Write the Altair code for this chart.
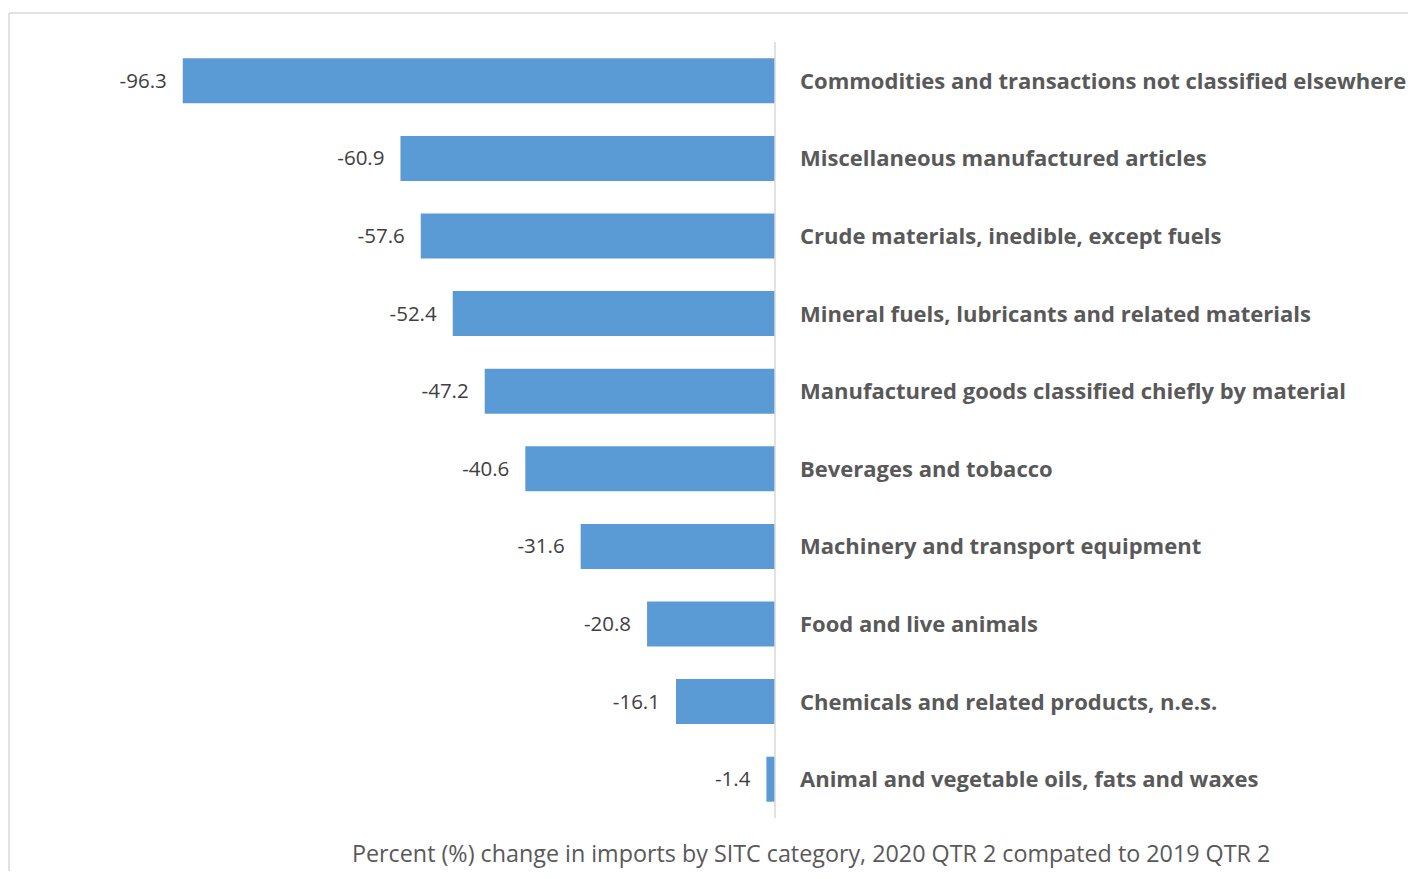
import altair as alt
import pandas as pd

categories = [
    "Commodities and transactions not classified elsewhere",
    "Miscellaneous manufactured articles",
    "Crude materials, inedible, except fuels",
    "Mineral fuels, lubricants and related materials",
    "Manufactured goods classified chiefly by material",
    "Beverages and tobacco",
    "Machinery and transport equipment",
    "Food and live animals",
    "Chemicals and related products, n.e.s.",
    "Animal and vegetable oils, fats and waxes",
]
values = [-96.3, -60.9, -57.6, -52.4, -47.2, -40.6, -31.6, -20.8, -16.1, -1.4]
title_text = ["Percent (%) change in imports by SITC category, 2020 QTR 2 compated to 2019 QTR 2"]

df = pd.DataFrame({"category": categories, "value": values})
df["label"] = df["value"].map(lambda v: f"{v:.1f}")
df["zero"] = 0.0

FONT = "Open Sans"

xscale = alt.Scale(domain=[-100, 0], nice=False)
x = alt.X("value:Q", scale=xscale, axis=None)
y = alt.Y("category:N", sort=categories, axis=None,
          scale=alt.Scale(paddingInner=0.42, paddingOuter=0.21))

base = alt.Chart(df)

bars = base.mark_bar(color="#5B9BD5").encode(x=x, y=y)

zero = alt.Chart(pd.DataFrame({"z": [0.0]})).mark_rule(color="#D9D9D9", strokeWidth=1.5).encode(
    x=alt.X("z:Q", scale=xscale, axis=None))

val_labels = base.mark_text(align="right", baseline="middle", dx=-16, dy=1,
                            font=FONT, fontSize=20.5, color="#404040").encode(
    x=x, y=y, text="label:N")

cat_labels = base.mark_text(align="left", baseline="middle", dx=25, dy=1,
                            font=FONT, fontSize=22, fontWeight="bold", color="#595959").encode(
    x=alt.X("zero:Q", scale=xscale, axis=None), y=y, text="category:N")

title_mark = alt.Chart(pd.DataFrame({"t": title_text})).mark_text(
    align="left", baseline="alphabetic", font=FONT, fontSize=23.3, color="#595959").encode(
    x=alt.value(192), y=alt.value(820), text="t:N")

frame_df = pd.DataFrame({"f": [1]})
frame_left = alt.Chart(frame_df).mark_rule(color="#D9D9D9", strokeWidth=1.5).encode(
    x=alt.value(-151), y=alt.value(-29), y2=alt.value(900))
frame_top = alt.Chart(frame_df).mark_rule(color="#D9D9D9", strokeWidth=1.5).encode(
    x=alt.value(-151), x2=alt.value(1300), y=alt.value(-29))

chart = alt.layer(frame_left, frame_top, bars, zero, val_labels, cat_labels, title_mark).properties(
    width=615,
    height=776,
    padding={"left": 152, "top": 34, "right": 633, "bottom": 53},
    autosize=alt.AutoSizeParams(type="none"),
).configure_view(stroke=None)

chart.save("out.html", embed_options={"renderer": "svg", "actions": False})
